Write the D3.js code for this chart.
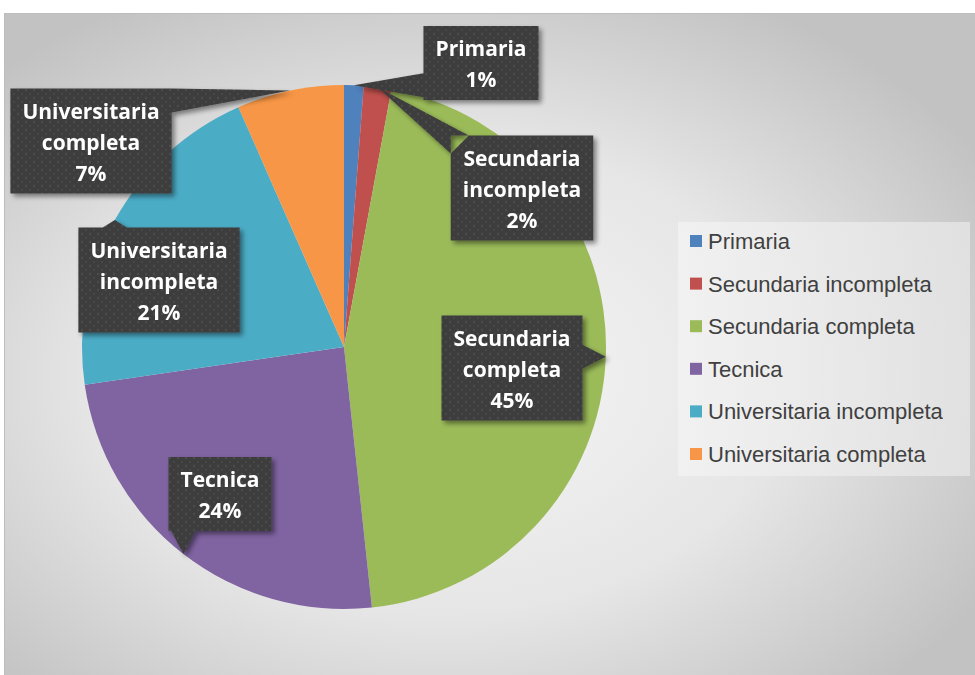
<!DOCTYPE html>
<html>
<head>
<meta charset="utf-8">
<script src="https://cdn.jsdelivr.net/npm/d3@7"></script>
<style>
  body { margin: 0; background: #fff; }
  svg { display: block; }
</style>
</head>
<body>
<div class="my_div"></div>
<script>
// Data (percent of respondents)
var categories = ["Primaria", "Secundaria incompleta", "Secundaria completa",
                  "Tecnica", "Universitaria incompleta", "Universitaria completa"];
var values = [1.2, 1.7, 45.4, 24.4, 20.7, 6.6];

// Office palette
var colors = ["#4F81BD", "#C0504D", "#9BBB59", "#8064A2", "#4BACC6", "#F79646"];

// Where each callout box sits (centre of box)
var labelCenters = [[481, 63], [522, 188], [512, 368], [220, 494], [159, 280], [91, 141]];

var width = 975,
    height = 675,
    cx = 344,
    cy = 347,
    r = 262;

var svg = d3.select(".my_div")
    .append("svg")
    .attr("width", width)
    .attr("height", height)

var defs = svg.append("defs")

// Background of the chart area
var bg = defs.append("radialGradient")
    .attr("id", "bg")
    .attr("cx", "45%").attr("cy", "55%").attr("r", "65%")
bg.append("stop").attr("offset", "0%").attr("stop-color", "#f6f6f6")
bg.append("stop").attr("offset", "55%").attr("stop-color", "#e6e6e6")
bg.append("stop").attr("offset", "100%").attr("stop-color", "#c2c2c2")

// Dotted texture for the callouts
var pat = defs.append("pattern")
    .attr("id", "dots")
    .attr("width", 8).attr("height", 8)
    .attr("patternUnits", "userSpaceOnUse")
pat.append("rect").attr("width", 8).attr("height", 8).attr("fill", "#3d3d3d")
pat.append("circle").attr("cx", 2).attr("cy", 2).attr("r", 1.2).attr("fill", "#4c4c4c")
pat.append("circle").attr("cx", 6).attr("cy", 6).attr("r", 1.2).attr("fill", "#474747")

var shadow = defs.append("filter")
    .attr("id", "shadow")
    .attr("x", "-20%").attr("y", "-20%").attr("width", "150%").attr("height", "150%")
shadow.append("feDropShadow")
    .attr("dx", 3).attr("dy", 3).attr("stdDeviation", 2.5)
    .attr("flood-color", "#000").attr("flood-opacity", 0.45)

var lg = defs.append("linearGradient").attr("id", "legbg")
lg.append("stop").attr("offset", "0%").attr("stop-color", "#f2f2f2")
lg.append("stop").attr("offset", "100%").attr("stop-color", "#e4e4e4")

svg.append("rect")
    .attr("x", 4.5).attr("y", 13.5)
    .attr("width", width - 4).attr("height", height - 13)
    .attr("fill", "url(#bg)")
    .attr("stroke", "#bdbdbd")

// Pie
var pie = d3.pie().sort(null).value((d) => { return d.value })
var data = categories.map((c, i) => { return { name: c, value: values[i], color: colors[i] } })
var arcs = pie(data)
var total = d3.sum(values)
var fmt = d3.format(".0%")

var arc = d3.arc().innerRadius(0).outerRadius(r)
var edge = d3.arc().innerRadius(r).outerRadius(r)

var g = svg.append("g")
    .attr("transform", "translate(" + cx + "," + cy + ")")

g.selectAll("path.slice")
    .data(arcs)
    .enter()
    .append("path")
    .attr("class", "slice")
    .attr("d", arc)
    .attr("fill", (d) => { return d.data.color })

// Callouts
var lineH = 31
var labels = svg.append("g")

arcs.forEach((d, i) => {
    var lines = d.data.name.split(" ")
    lines.push(fmt(d.data.value / total))

    var c = labelCenters[i]
    var lab = labels.append("g").attr("filter", "url(#shadow)")
    var path = lab.append("path").attr("fill", "url(#dots)")

    var txt = lab.append("text")
        .attr("text-anchor", "middle")
        .attr("font-family", "'Open Sans', sans-serif")
        .attr("font-weight", "bold")
        .attr("font-size", 21)
        .attr("fill", "#fff")

    var top = c[1] - lines.length * lineH / 2
    lines.forEach((t, j) => {
        txt.append("tspan")
            .attr("x", c[0])
            .attr("y", top + j * lineH + 24)
            .text(t)
    })

    var w = d3.max(txt.selectAll("tspan").nodes(), (n) => { return n.getComputedTextLength() }) + 24
    var h = lines.length * lineH + 12
    var x0 = c[0] - w / 2, x1 = c[0] + w / 2,
        y0 = c[1] - h / 2, y1 = c[1] + h / 2

    // tip sits on the pie edge at the middle of the slice
    var e = edge.centroid(d)
    var tx = cx + e[0], ty = cy + e[1]
    var px = Math.max(x0, Math.min(x1, tx)),
        py = Math.max(y0, Math.min(y1, ty))
    var hw = 12
    var pts = [[x0, y0], [x1, y0], [x1, y1], [x0, y1]]
    var b1, b2
    if ((px == x0 || px == x1) && (py == y0 || py == y1)) {
        // corner
        var sx = px == x0 ? 1 : -1, sy = py == y0 ? 1 : -1
        b1 = [px + sx * hw * 1.5, py]
        b2 = [px, py + sy * hw * 1.5]
    } else if (px == x0 || px == x1) {
        var my = Math.max(y0 + hw, Math.min(y1 - hw, py))
        b1 = [px, my - hw]; b2 = [px, my + hw]
    } else {
        var mx = Math.max(x0 + hw, Math.min(x1 - hw, px))
        b1 = [mx - hw, py]; b2 = [mx + hw, py]
    }
    var tri = "M" + b1 + "L" + tx + "," + ty + "L" + b2 + "Z"
    var box = "M" + pts.join("L") + "Z"
    path.attr("d", box + tri)
    txt.raise()
})

// Legend
var legend = svg.append("g")
legend.append("rect")
    .attr("x", 678).attr("y", 222)
    .attr("width", 292).attr("height", 254)
    .attr("fill", "url(#legbg)")
    .attr("opacity", 0.85)

var item = legend.selectAll("g.item")
    .data(data)
    .enter()
    .append("g")
    .attr("class", "item")
    .attr("transform", (d, i) => { return "translate(690," + (241 + i * 42.6) + ")" })

item.append("rect")
    .attr("x", 0).attr("y", -6)
    .attr("width", 12).attr("height", 12)
    .attr("fill", (d) => { return d.color })

item.append("text")
    .text((d) => { return d.name })
    .attr("x", 18)
    .attr("dy", "0.36em")
    .attr("font-family", "'Liberation Sans', Arial, sans-serif")
    .attr("font-size", 22)
    .attr("fill", "#404040")
</script>
</body>
</html>
